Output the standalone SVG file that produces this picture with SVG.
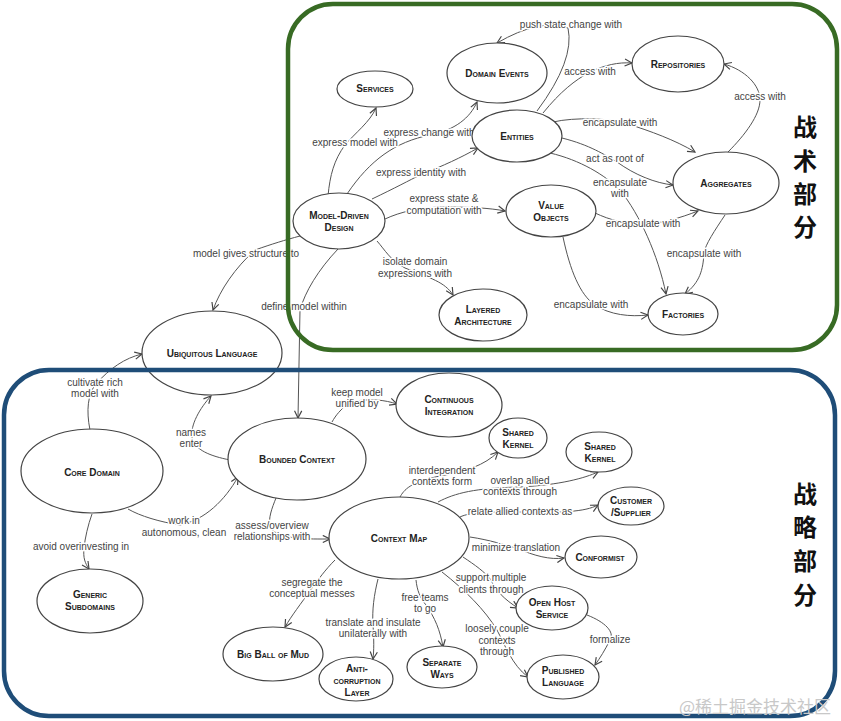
<svg xmlns="http://www.w3.org/2000/svg" width="841" height="721" viewBox="0 0 841 721">
<defs>
<style>
.bg{fill:#ffffff}
.node ellipse{fill:#ffffff;stroke:#444;stroke-width:1.2}
.node text{font-family:"Liberation Sans",Arial,sans-serif;font-size:10px;font-weight:bold;font-variant:small-caps;fill:#222;text-anchor:middle}
.edges path{fill:none;stroke:#555;stroke-width:1;marker-end:url(#ah)}
.lbl{font-family:"Liberation Sans",Arial,sans-serif;font-size:10px;fill:#444;text-anchor:middle;stroke:#fff;stroke-width:3;paint-order:stroke;stroke-linejoin:round}
.cjk{font-family:"Noto Sans CJK SC",sans-serif;font-size:24px;font-weight:bold;fill:#111;text-anchor:middle}
.wm{font-family:"Noto Sans CJK SC",sans-serif;font-size:17px;fill:#c8c8c8;text-anchor:middle}
</style>
<marker id="ah" viewBox="0 0 10 10" refX="9" refY="5" markerWidth="9" markerHeight="9" markerUnits="userSpaceOnUse" orient="auto">
<path d="M1,1 L9,5 L1,9" fill="none" stroke="#444" stroke-width="1.3"/>
</marker>
</defs>
<rect class="bg" x="0" y="0" width="841" height="721"/>

<g id="connectors" class="edges">
<path d="M537,111 Q575,60 568,28 Q540,18 497,43"/>
<path d="M543,113 C560,92 575,80 590,72 C605,65 618,62 632,63"/>
<path d="M553,122 C575,117 610,118 628,124 C650,131 675,140 695,152"/>
<path d="M562,138 C590,145 605,155 617,162 C635,175 655,183 673,185"/>
<path d="M550,153 C580,160 605,175 620,190 C640,215 658,255 666,294"/>
<path d="M595,213 C610,220 625,224 643,224 C660,224 680,218 698,211"/>
<path d="M725,215 C715,230 705,245 704,253 C703,270 700,282 685,294"/>
<path d="M728,152 C745,135 760,115 760,100 C760,85 745,70 724,64"/>
<path d="M563,237 C570,270 580,295 595,305 C610,315 630,317 648,315"/>
<path d="M328,196 C330,175 334,160 345,145 C355,133 370,122 376,108"/>
<path d="M347,194 C370,160 395,142 430,135 C455,130 470,118 477,102"/>
<path d="M372,199 C395,188 410,180 420,175 C445,165 460,158 478,148"/>
<path d="M385,219 C400,212 420,207 445,207 C470,207 490,208 505,211"/>
<path d="M377,241 C385,250 390,260 405,268 C430,278 445,282 453,295"/>
<path d="M300,236 C285,240 272,244 255,250 C235,268 220,290 213,310"/>
<path d="M338,249 C318,270 305,292 300,310 L298,418"/>
<path d="M90,430 C86,410 88,395 95,385 C110,368 125,358 142,354"/>
<path d="M230,460 C210,456 195,450 192,438 C190,425 200,408 211,396"/>
<path d="M128,509 C140,516 160,522 180,525 C205,520 225,500 238,477"/>
<path d="M92,514 C88,525 85,538 84,548 C83,558 85,563 89,569"/>
<path d="M332,422 C336,415 340,410 350,402 C370,398 385,400 397,404"/>
<path d="M276,498 C272,508 268,518 270,528 C280,540 310,539 330,539"/>
<path d="M400,497 C404,490 410,482 440,476 C465,472 485,465 498,452"/>
<path d="M438,502 C455,493 475,488 520,487 C560,485 585,478 598,472"/>
<path d="M460,517 C470,512 490,512 520,512 C560,513 585,512 598,505"/>
<path d="M470,537 C490,540 505,545 516,548 C535,556 550,560 564,558"/>
<path d="M463,557 C475,565 485,572 491,580 C495,590 505,600 518,608"/>
<path d="M442,572 C465,590 485,610 497,630 C505,645 512,665 528,677"/>
<path d="M587,615 C605,622 615,632 610,640 C605,650 600,658 595,665"/>
<path d="M335,560 C325,570 318,580 312,588 C300,605 292,615 285,627"/>
<path d="M378,579 C374,595 372,610 373,625 C374,640 374,650 373,659"/>
<path d="M416,580 C417,590 420,598 426,605 C435,618 440,630 443,647"/>
</g>

<g id="edge-labels">
<text class="lbl" x="571" y="28">push state change with</text>
<text class="lbl" x="590" y="75">access with</text>
<text class="lbl" x="620" y="126">encapsulate with</text>
<text class="lbl" x="615" y="162">act as root of</text>
<text class="lbl" x="620" y="186">encapsulate</text>
<text class="lbl" x="620" y="197">with</text>
<text class="lbl" x="643" y="227">encapsulate with</text>
<text class="lbl" x="704" y="257">encapsulate with</text>
<text class="lbl" x="760" y="100">access with</text>
<text class="lbl" x="591" y="308">encapsulate with</text>
<text class="lbl" x="355" y="146">express model with</text>
<text class="lbl" x="429" y="136">express change with</text>
<text class="lbl" x="421" y="176">express identity with</text>
<text class="lbl" x="444" y="202">express state &amp;</text>
<text class="lbl" x="444" y="214">computation with</text>
<text class="lbl" x="415" y="265">isolate domain</text>
<text class="lbl" x="415" y="277">expressions with</text>
<text class="lbl" x="246" y="257">model gives structure to</text>
<text class="lbl" x="304" y="310">define model within</text>
<text class="lbl" x="95" y="386">cultivate rich</text>
<text class="lbl" x="95" y="397">model with</text>
<text class="lbl" x="191" y="436">names</text>
<text class="lbl" x="191" y="447">enter</text>
<text class="lbl" x="184" y="524">work in</text>
<text class="lbl" x="184" y="536">autonomous, clean</text>
<text class="lbl" x="81" y="550">avoid overinvesting in</text>
<text class="lbl" x="357" y="396">keep model</text>
<text class="lbl" x="357" y="407">unified by</text>
<text class="lbl" x="272" y="529">assess/overview</text>
<text class="lbl" x="272" y="540">relationships with</text>
<text class="lbl" x="442" y="474">interdependent</text>
<text class="lbl" x="442" y="485">contexts form</text>
<text class="lbl" x="520" y="484">overlap allied</text>
<text class="lbl" x="520" y="495">contexts through</text>
<text class="lbl" x="520" y="515">relate allied contexts as</text>
<text class="lbl" x="516" y="551">minimize translation</text>
<text class="lbl" x="491" y="581">support multiple</text>
<text class="lbl" x="491" y="593">clients through</text>
<text class="lbl" x="497" y="632">loosely couple</text>
<text class="lbl" x="497" y="644">contexts</text>
<text class="lbl" x="497" y="655">through</text>
<text class="lbl" x="610" y="643">formalize</text>
<text class="lbl" x="312" y="586">segregate the</text>
<text class="lbl" x="312" y="597">conceptual messes</text>
<text class="lbl" x="373" y="626">translate and insulate</text>
<text class="lbl" x="373" y="637">unilaterally with</text>
<text class="lbl" x="425" y="601">free teams</text>
<text class="lbl" x="425" y="612">to go</text>
</g>

<g id="services" class="node"><ellipse cx="375" cy="89" rx="38" ry="18"/><text x="375" y="92">Services</text></g>
<g id="domain-events" class="node"><ellipse cx="497" cy="73" rx="50" ry="30"/><text x="497" y="77">Domain Events</text></g>
<g id="entities" class="node"><ellipse cx="517" cy="136" rx="45" ry="26"/><text x="517" y="140">Entities</text></g>
<g id="repositories" class="node"><ellipse cx="678" cy="64" rx="46" ry="28"/><text x="678" y="68">Repositories</text></g>
<g id="aggregates" class="node"><ellipse cx="726" cy="183" rx="53" ry="31"/><text x="726" y="187">Aggregates</text></g>
<g id="model-driven-design" class="node"><ellipse cx="339" cy="221" rx="46" ry="28"/><text x="339" y="219">Model-Driven</text><text x="339" y="231">Design</text></g>
<g id="value-objects" class="node"><ellipse cx="551" cy="211" rx="45" ry="26"/><text x="551" y="209">Value</text><text x="551" y="221">Objects</text></g>
<g id="layered-architecture" class="node"><ellipse cx="483" cy="315" rx="44" ry="26"/><text x="483" y="313">Layered</text><text x="483" y="325">Architecture</text></g>
<g id="factories" class="node"><ellipse cx="683" cy="314" rx="35" ry="21"/><text x="683" y="318">Factories</text></g>
<g id="ubiquitous-language" class="node"><ellipse cx="212" cy="353" rx="70" ry="42"/><text x="212" y="357">Ubiquitous Language</text></g>
<g id="core-domain" class="node"><ellipse cx="92" cy="471" rx="71" ry="42"/><text x="92" y="476">Core Domain</text></g>
<g id="bounded-context" class="node"><ellipse cx="297" cy="459" rx="69" ry="41"/><text x="297" y="463">Bounded Context</text></g>
<g id="continuous-integration" class="node"><ellipse cx="449" cy="405" rx="53" ry="32"/><text x="449" y="403">Continuous</text><text x="449" y="415">Integration</text></g>
<g id="shared-kernel-1" class="node"><ellipse cx="518" cy="438" rx="29" ry="20"/><text x="518" y="436">Shared</text><text x="518" y="448">Kernel</text></g>
<g id="shared-kernel-2" class="node"><ellipse cx="599" cy="452" rx="33" ry="20"/><text x="600" y="450">Shared</text><text x="600" y="462">Kernel</text></g>
<g id="customer-supplier" class="node"><ellipse cx="631" cy="506" rx="33" ry="19"/><text x="631" y="504">Customer</text><text x="631" y="516">/Supplier</text></g>
<g id="conformist" class="node"><ellipse cx="601" cy="557" rx="36" ry="21"/><text x="600" y="561">Conformist</text></g>
<g id="context-map" class="node"><ellipse cx="399" cy="538" rx="70" ry="41"/><text x="399" y="542">Context Map</text></g>
<g id="generic-subdomains" class="node"><ellipse cx="90" cy="601" rx="53" ry="32"/><text x="90" y="598">Generic</text><text x="90" y="610">Subdomains</text></g>
<g id="big-ball-of-mud" class="node"><ellipse cx="273" cy="654" rx="50" ry="27"/><text x="273" y="658">Big Ball of Mud</text></g>
<g id="anti-corruption-layer" class="node"><ellipse cx="356" cy="679" rx="37" ry="22"/><text x="357" y="672">Anti-</text><text x="357" y="684">corruption</text><text x="357" y="696">Layer</text></g>
<g id="separate-ways" class="node"><ellipse cx="442" cy="667" rx="35" ry="21"/><text x="442" y="666">Separate</text><text x="442" y="678">Ways</text></g>
<g id="open-host-service" class="node"><ellipse cx="552" cy="608" rx="36" ry="22"/><text x="552" y="606">Open Host</text><text x="552" y="618">Service</text></g>
<g id="published-language" class="node"><ellipse cx="563" cy="677" rx="36" ry="22"/><text x="563" y="674">Published</text><text x="563" y="686">Language</text></g>

<g id="tactical-frame">
<rect x="288" y="4" width="549" height="346" rx="45" ry="45" fill="none" stroke="#386b24" stroke-width="4.5"/>
<text class="cjk" x="805" y="136">战</text>
<text class="cjk" x="805" y="170">术</text>
<text class="cjk" x="805" y="203">部</text>
<text class="cjk" x="805" y="236">分</text>
</g>
<g id="strategic-frame">
<rect x="4" y="370" width="831" height="346" rx="45" ry="45" fill="none" stroke="#1f4d78" stroke-width="4.5"/>
<text class="cjk" x="805" y="503">战</text>
<text class="cjk" x="805" y="536">略</text>
<text class="cjk" x="805" y="570">部</text>
<text class="cjk" x="805" y="604">分</text>
</g>
<text class="wm" x="755" y="713">@稀土掘金技术社区</text>
</svg>
